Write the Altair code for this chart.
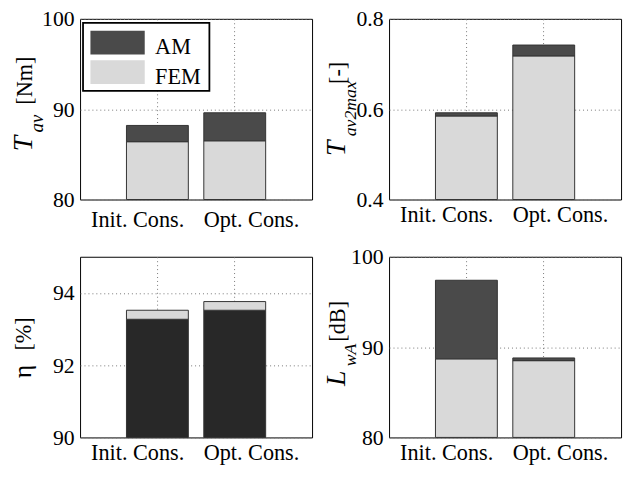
import altair as alt
import pandas as pd

# ---- data ----
categories = ["Init. Cons.", "Opt. Cons."]
series_names = ["AM", "FEM"]

tav_fem = [86.4, 86.5]
tav_am = [88.2, 89.6]

tav2max_fem = [0.585, 0.718]
tav2max_am = [0.592, 0.742]

eta_low = [93.27, 93.52]
eta_high = [93.52, 93.76]

lwa_fem = [88.7, 88.5]
lwa_am = [97.4, 88.8]

ticks_tav = [80, 90, 100]
ticks_tav2max = [0.4, 0.6, 0.8]
ticks_eta = [90, 92, 94]
ticks_lwa = [80, 90, 100]

FONT = "Liberation Serif"
W, H = 235, 183
C_AM = "#4a4a4a"
C_FEM = "#d9d9d9"
C_ETA = "#282828"
EDGE = "#333333"


def text_piece(text, dx, dy, size, style="normal"):
    return alt.Chart(pd.DataFrame({"t": [text]})).mark_text(
        angle=270, align="left", baseline="alphabetic", font=FONT,
        fontSize=size, fontStyle=style, color="black"
    ).encode(x=alt.value(dx), y=alt.value(dy), text="t:N")


def panel(low, high, domain, ticks, fmt, low_color, high_color, title_parts,
          legend=False, xpad=4):
    df = pd.DataFrame({"cat": categories, "low": low, "high": high,
                       "base": [domain[0]] * len(categories)})
    x = alt.X("cat:N", sort=categories, title=None,
              scale=alt.Scale(paddingInner=0.2, paddingOuter=0.6),
              axis=alt.Axis(labelAngle=0, grid=True, bandPosition=0.5,
                            labelOffset={"condition": {"test": "datum.value == 'Init. Cons.'", "value": -20},
                                         "value": 17},
                            labelPadding=xpad, labelFontSize=22.5))
    yscale = alt.Scale(domain=domain, nice=False, zero=False)
    yaxis = alt.Axis(values=ticks, format=fmt, grid=True, labelPadding=6)
    base = alt.Chart(df)
    lower = base.mark_bar(color=low_color, stroke=EDGE, strokeWidth=1).encode(
        x=x, y=alt.Y("low:Q", scale=yscale, axis=yaxis, title=None), y2="base:Q")
    upper = base.mark_bar(color=high_color, stroke=EDGE, strokeWidth=1).encode(
        x=x, y=alt.Y("high:Q", scale=yscale, axis=yaxis, title=None), y2="low:Q")
    layers = [lower, upper]
    for p in title_parts:
        layers.append(text_piece(*p))
    if legend:
        one = pd.DataFrame({"a": [0]})
        layers.append(alt.Chart(one).mark_rect(fill="white", stroke="black", strokeWidth=1.8).encode(
            x=alt.value(3), x2=alt.value(131), y=alt.value(4), y2=alt.value(73)))
        layers.append(alt.Chart(one).mark_rect(fill=C_AM).encode(
            x=alt.value(10.5), x2=alt.value(65.5), y=alt.value(12), y2=alt.value(36)))
        layers.append(alt.Chart(one).mark_rect(fill=C_FEM).encode(
            x=alt.value(10.5), x2=alt.value(65.5), y=alt.value(42), y2=alt.value(66)))
        leg = pd.DataFrame({"t": series_names})
        layers.append(alt.Chart(leg).transform_filter("datum.t == 'AM'").mark_text(
            align="left", baseline="alphabetic", font=FONT, fontSize=22.5, color="black").encode(
            x=alt.value(76), y=alt.value(36), text="t:N"))
        layers.append(alt.Chart(leg).transform_filter("datum.t == 'FEM'").mark_text(
            align="left", baseline="alphabetic", font=FONT, fontSize=22.5, color="black").encode(
            x=alt.value(76), y=alt.value(66), text="t:N"))
    return alt.layer(*layers).properties(width=W, height=H)


tl = panel(tav_fem, tav_am, [80, 100], ticks_tav, "d", C_FEM, C_AM,
           [("T", -49, 134, 28, "italic"), ("av", -38, 115, 19, "italic"), ("[Nm]", -49, 87, 22.5)],
           legend=True, xpad=9)
tr = panel(tav2max_fem, tav2max_am, [0.4, 0.8], ticks_tav2max, ".1f", C_FEM, C_AM,
           [("T", -45, 139, 28, "italic"), ("av2max", -34, 119, 18, "italic"), ("[-]", -45, 66, 22.5)])
bl = panel(eta_low, eta_high, [90, 95], ticks_eta, "d", C_ETA, C_FEM,
           [("η", -50, 123, 26), ("[%]", -50, 95, 22.5)])
br = panel(lwa_fem, lwa_am, [80, 100], ticks_lwa, "d", C_FEM, C_AM,
           [("L", -45, 131, 28, "italic"), ("wA", -34, 111, 18, "italic"), ("[dB]", -45, 86, 22.5)])

chart = alt.concat(tl, tr, bl, br, columns=2, spacing={"row": 58, "column": 78}, bounds="flush").properties(
    autosize=alt.AutoSizeParams(type="none"),
    padding={"left": 73, "top": 8, "right": 553, "bottom": 454},
    background="white",
).configure_view(stroke="black", strokeWidth=1).configure_axis(
    domain=False, ticks=False, tickSize=0,
    labelFont=FONT, labelFontSize=22, labelColor="black",
    gridColor="#777777", gridDash=[1, 3], gridWidth=1, gridOpacity=1,
)

chart.save("out.html", embed_options={"renderer": "svg", "actions": False})
